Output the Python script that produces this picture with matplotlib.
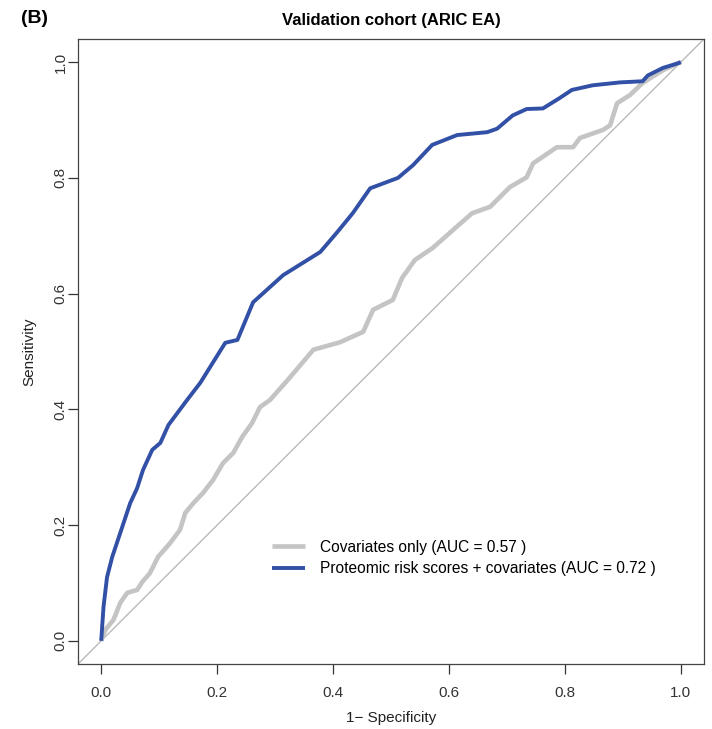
import matplotlib
matplotlib.use("Agg")
import matplotlib.pyplot as plt

plt.rcParams["font.family"] = ["Liberation Sans", "DejaVu Sans"]

# ROC points (1 - specificity, sensitivity)
cov_fpr = [0.0, 0.007, 0.021, 0.033, 0.045, 0.062, 0.071, 0.084, 0.098, 0.119, 0.136,
           0.145, 0.159, 0.176, 0.193, 0.21, 0.228, 0.243, 0.26, 0.274, 0.291, 0.322,
           0.366, 0.412, 0.452, 0.469, 0.503, 0.519, 0.541, 0.572, 0.607, 0.64, 0.671,
           0.705, 0.734, 0.745, 0.786, 0.814, 0.826, 0.866, 0.878, 0.89, 0.912, 0.934,
           0.969, 0.995, 1.0]
cov_tpr = [0.0, 0.019, 0.036, 0.066, 0.083, 0.088, 0.102, 0.117, 0.145, 0.169, 0.192,
           0.221, 0.238, 0.256, 0.278, 0.307, 0.325, 0.352, 0.376, 0.404, 0.416, 0.451,
           0.503, 0.516, 0.534, 0.572, 0.589, 0.627, 0.658, 0.679, 0.71, 0.739, 0.75,
           0.784, 0.801, 0.825, 0.853, 0.853, 0.869, 0.883, 0.891, 0.929, 0.943, 0.964,
           0.986, 0.998, 1.0]

prot_fpr = [0.0, 0.002, 0.004, 0.01, 0.019, 0.033, 0.05, 0.062, 0.072, 0.088, 0.102,
            0.116, 0.148, 0.171, 0.214, 0.235, 0.262, 0.314, 0.378, 0.407, 0.434, 0.464,
            0.512, 0.538, 0.571, 0.614, 0.666, 0.683, 0.71, 0.734, 0.762, 0.791, 0.812,
            0.848, 0.895, 0.934, 0.943, 0.969, 0.995, 1.0]
prot_tpr = [0.0, 0.03, 0.059, 0.11, 0.145, 0.187, 0.238, 0.264, 0.295, 0.33, 0.342,
            0.373, 0.416, 0.446, 0.515, 0.52, 0.585, 0.632, 0.672, 0.706, 0.739, 0.782,
            0.80, 0.822, 0.857, 0.874, 0.879, 0.885, 0.908, 0.919, 0.92, 0.938, 0.952,
            0.96, 0.965, 0.967, 0.977, 0.99, 0.998, 1.0]

labels = ["Covariates only (AUC = 0.57 )",
          "Proteomic risk scores + covariates (AUC = 0.72 )"]
ticks = [0.0, 0.2, 0.4, 0.6, 0.8, 1.0]

fig = plt.figure(figsize=(7.12, 7.29), dpi=100)
ax = fig.add_axes([0.1096, 0.0892, 0.8792, 0.8573])

ax.axline((0, 0), (1, 1), color="#b4b4b4", lw=0.9, zorder=1)
ax.plot(cov_fpr, cov_tpr, color="#c4c4c4", lw=3.3, solid_capstyle="butt", label=labels[0], zorder=2)
ax.plot(prot_fpr, prot_tpr, color="#3150a6", lw=2.8, solid_capstyle="butt", label=labels[1], zorder=3)

ax.set_xlim(-0.04, 1.04)
ax.set_ylim(-0.04, 1.04)
ax.set_xticks(ticks)
ax.set_yticks(ticks)
ax.set_xticklabels([f"{t:.1f}" for t in ticks])
ax.set_yticklabels([f"{t:.1f}" for t in ticks], rotation=90, va="center")
ax.tick_params(direction="out", length=7, width=0.9, colors="#333333", labelsize=11)
ax.tick_params(axis="x", pad=9)
ax.tick_params(axis="y", pad=0.5)
for s in ax.spines.values():
    s.set_color("#444444")
    s.set_linewidth(0.9)

ax.set_xlabel("1\u2212 Specificity", fontsize=11, labelpad=8, color="#222222")
ax.set_ylabel("Sensitivity", fontsize=11, labelpad=12.5, color="#222222")
ax.set_title("Validation cohort (ARIC EA)", fontsize=12, fontweight="bold", pad=10)
fig.text(0.03, 0.975, "(B)", fontsize=14, fontweight="bold", va="center")

ax.legend(loc="upper left", bbox_to_anchor=(0.31, 0.199), frameon=False, fontsize=11.2,
          handlelength=2.1, handletextpad=1.0, labelspacing=0.42, borderpad=0,
          borderaxespad=0)

fig.savefig("out.png", dpi=100)
